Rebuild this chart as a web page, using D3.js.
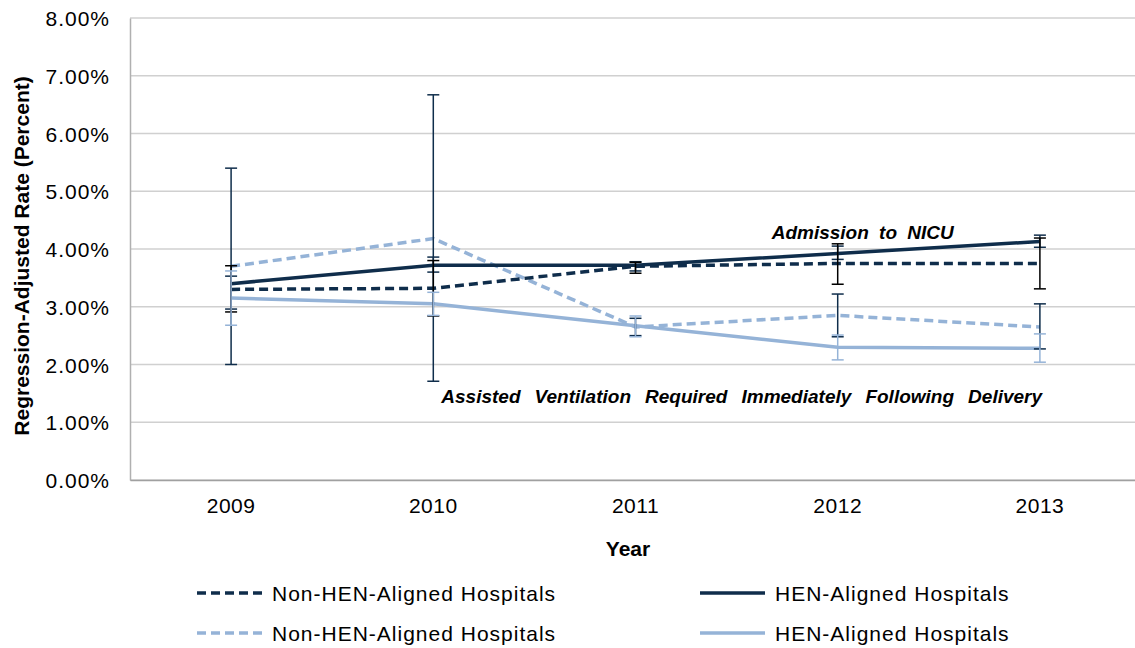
<!DOCTYPE html>
<html>
<head>
<meta charset="utf-8">
<script src="https://cdn.jsdelivr.net/npm/d3@7"></script>
<style>
  body { margin: 0; background: #fff; }
  text { font-family: "Liberation Sans", Arial, sans-serif; fill: #000; }
</style>
</head>
<body>
<svg id="chart" width="1135" height="648"></svg>
<script>
// categories and tick labels
var years = [ "2009", "2010", "2011", "2012", "2013" ];
var yTicks = [ 0, 1, 2, 3, 4, 5, 6, 7, 8 ];

// Admission to NICU
var nicuNonHen = [ 3.30, 3.32, 3.70, 3.75, 3.75 ];
var nicuNonHenLow = [ 2.91, 2.84, 3.58, 3.39, 3.31 ];
var nicuNonHenHigh = [ 3.71, 3.80, 3.77, 4.09, 4.19 ];

var nicuHen = [ 3.40, 3.72, 3.72, 3.92, 4.13 ];
var nicuHenLow = [ 2.96, 3.60, 3.62, 3.82, 4.03 ];
var nicuHenHigh = [ 3.53, 3.86, 3.78, 4.05, 4.24 ];

// Assisted ventilation required immediately following delivery
var ventNonHen = [ 3.70, 4.18, 2.65, 2.85, 2.65 ];
var ventNonHenLow = [ 2.00, 1.71, 2.50, 2.48, 2.27 ];
var ventNonHenHigh = [ 5.40, 6.67, 2.80, 3.22, 3.05 ];

var ventHen = [ 3.15, 3.05, 2.67, 2.30, 2.28 ];
var ventHenLow = [ 2.68, 2.85, 2.48, 2.08, 2.04 ];
var ventHenHigh = [ 3.62, 3.25, 2.84, 2.51, 2.53 ];

var navy = "#0f2d4b";
var light = "#95b3d7";

var series = [
    { name: "Non-HEN-Aligned Hospitals", values: nicuNonHen, low: nicuNonHenLow, high: nicuNonHenHigh, color: navy, dash: "9,5", errColor: "#000" },
    { name: "HEN-Aligned Hospitals", values: nicuHen, low: nicuHenLow, high: nicuHenHigh, color: navy, dash: null, errColor: navy },
    { name: "Non-HEN-Aligned Hospitals", values: ventNonHen, low: ventNonHenLow, high: ventNonHenHigh, color: light, dash: "9,5", errColor: navy },
    { name: "HEN-Aligned Hospitals", values: ventHen, low: ventHenLow, high: ventHenHigh, color: light, dash: null, errColor: light }
];

var svg = d3.select( "#chart" );
var margin = { left: 130, top: 18, right: -6, bottom: 168 };
var width = 1135 - margin.left - margin.right;
var height = 648 - margin.top - margin.bottom;

var g = svg.append( "g" ).attr( "transform", "translate(" + margin.left + "," + margin.top + ")" );

var x = d3.scaleBand().domain( years ).range( [ 0, width ] );
var y = d3.scaleLinear().domain( [ 0, 8 ] ).range( [ height, 0 ] );
var cx = function( i ) { return x( years[ i ] ) + x.bandwidth() / 2; };

// gridlines
g.append( "g" )
    .selectAll( "line" )
    .data( yTicks )
    .join( "line" )
    .attr( "x1", 0 ).attr( "x2", width )
    .attr( "y1", function( d ) { return y( d ); } )
    .attr( "y2", function( d ) { return y( d ); } )
    .attr( "stroke", "#d0d0d0" )
    .attr( "stroke-width", 1.5 );

// y axis
var yAxis = g.append( "g" )
    .call( d3.axisLeft( y ).tickValues( yTicks ).tickSize( 0 ).tickPadding( 20 )
        .tickFormat( function( d ) { return d3.format( ".2f" )( d ) + "%"; } ) );
yAxis.select( ".domain" ).attr( "stroke", "#b0b0b0" ).attr( "stroke-width", 1.5 );
yAxis.selectAll( "text" ).style( "font-size", "21px" ).style( "letter-spacing", "1px" ).attr( "dy", "0.36em" );

// x axis
var xAxis = g.append( "g" )
    .attr( "transform", "translate(0," + height + ")" )
    .call( d3.axisBottom( x ).tickSize( 0 ).tickPadding( 18 ) );
xAxis.select( ".domain" ).attr( "stroke", "#a0a0a0" ).attr( "stroke-width", 1.5 );
xAxis.selectAll( "text" ).style( "font-size", "21px" ).style( "letter-spacing", "0.5px" );

// lines
var line = d3.line()
    .x( function( d, i ) { return cx( i ); } )
    .y( function( d ) { return y( d ); } );

var drawOrder = [ 3, 2, 0, 1 ];
drawOrder.forEach( function( k ) {
    var s = series[ k ];
    g.append( "path" )
        .datum( s.values )
        .attr( "d", line )
        .attr( "fill", "none" )
        .attr( "stroke", s.color )
        .attr( "stroke-width", 3.5 )
        .attr( "stroke-dasharray", s.dash );
} );

// error bars
var errOrder = [ 2, 1, 0, 3 ];
errOrder.forEach( function( k ) {
    var s = series[ k ];
    var eg = g.append( "g" ).attr( "stroke", s.errColor ).attr( "stroke-width", 1.5 );
    s.values.forEach( function( v, i ) {
        var xc = cx( i );
        eg.append( "line" ).attr( "x1", xc ).attr( "x2", xc )
            .attr( "y1", y( s.low[ i ] ) ).attr( "y2", y( s.high[ i ] ) );
        [ s.low[ i ], s.high[ i ] ].forEach( function( e ) {
            eg.append( "line" ).attr( "x1", xc - 6 ).attr( "x2", xc + 6 )
                .attr( "y1", y( e ) ).attr( "y2", y( e ) );
        } );
    } );
} );

// annotations
g.append( "text" )
    .attr( "x", cx( 3 ) + 25 ).attr( "y", y( 4.3 ) + 7 )
    .attr( "text-anchor", "middle" )
    .style( "font-size", "19px" ).style( "font-weight", "bold" ).style( "font-style", "italic" )
    .style( "word-spacing", "5px" )
    .text( "Admission to NICU" );

g.append( "text" )
    .attr( "x", cx( 1 ) + 8 ).attr( "y", y( 1.45 ) + 7 )
    .attr( "text-anchor", "start" )
    .style( "font-size", "19px" ).style( "font-weight", "bold" ).style( "font-style", "italic" )
    .style( "word-spacing", "8.8px" )
    .text( "Assisted Ventilation Required Immediately Following Delivery" );

// axis titles
svg.append( "text" )
    .attr( "x", 628 ).attr( "y", 556 )
    .attr( "text-anchor", "middle" )
    .style( "font-size", "21px" ).style( "font-weight", "bold" )
    .text( "Year" );

svg.append( "text" )
    .attr( "transform", "translate(29," + 256 + ") rotate(-90)" )
    .attr( "text-anchor", "middle" )
    .style( "font-size", "21px" ).style( "font-weight", "bold" )
    .text( "Regression-Adjusted Rate (Percent)" );

// legend
var legendPos = [ [ 197, 593 ], [ 700, 593 ], [ 197, 633 ], [ 700, 633 ] ];
var legend = svg.append( "g" )
    .selectAll( "g" )
    .data( series )
    .join( "g" )
    .attr( "transform", function( d, i ) { return "translate(" + legendPos[ i ][ 0 ] + "," + legendPos[ i ][ 1 ] + ")"; } );

legend.append( "line" )
    .attr( "x1", 0 ).attr( "x2", 65 )
    .attr( "stroke", function( d ) { return d.color; } )
    .attr( "stroke-width", 3.5 )
    .attr( "stroke-dasharray", function( d ) { return d.dash; } );

legend.append( "text" )
    .attr( "x", 75 ).attr( "dy", "0.36em" )
    .style( "font-size", "21px" ).style( "letter-spacing", "1px" )
    .text( function( d ) { return d.name; } );
</script>
</body>
</html>
